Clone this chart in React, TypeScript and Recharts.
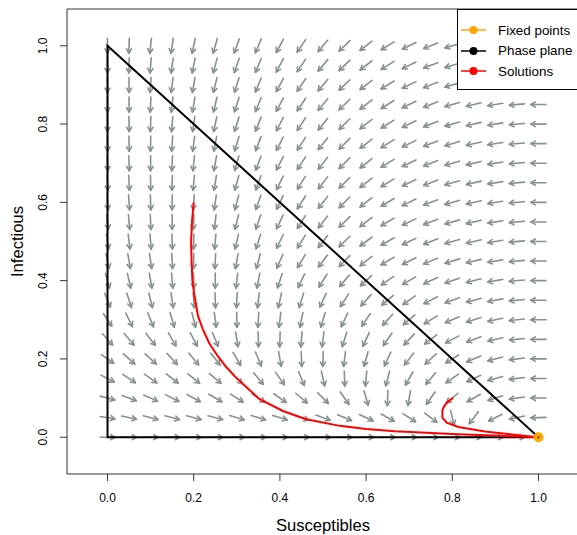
import React from 'react';
import { ScatterChart, Scatter, XAxis, YAxis, ReferenceArea, Legend } from 'recharts';

// grid of the flow field
const sValues = [0, 0.05, 0.1, 0.15, 0.2, 0.25, 0.3, 0.35, 0.4, 0.45, 0.5, 0.55, 0.6, 0.65, 0.7, 0.75, 0.8, 0.85, 0.9, 0.95, 1];
const iValues = [0, 0.05, 0.1, 0.15, 0.2, 0.25, 0.3, 0.35, 0.4, 0.45, 0.5, 0.55, 0.6, 0.65, 0.7, 0.75, 0.8, 0.85, 0.9, 0.95, 1];

// arrow directions on screen (degrees, 0 = right, -90 = down), one row per I value
const arrowAngles: (number | null)[][] = [
  [0, 0, 0, 0, 0, 0, 0, 0, 0, 0, 0, 0, 0, 0, 0, 0, 0, 0, 0, 0, null],
  [-9, -12, -14, -15, -15, -15, -16, -17, -17, -19, -20, -22, -25, -29, -33, -37, -76, -127, -153, -168, -178],
  [-15, -20, -24, -27, -29, -30, -32, -33, -35, -40, -45, -55, -74, -92, -100, -125, -140, -150, -162, -172, -180],
  [-27, -33, -35, -37, -39, -40, -44, -50, -55, -68, -77, -88, -95, -105, -120, -130, -145, -155, -165, -173, -180],
  [-35, -42, -42, -47, -50, -52, -60, -67, -80, -88, -92, -97, -105, -115, -128, -137, -148, -157, -165, -173, -180],
  [-48, -50, -52, -60, -62, -67, -80, -88, -92, -95, -98, -107, -115, -125, -133, -143, -152, -160, -167, -174, -180],
  [-56, -64, -68, -74, -76, -82, -89, -93, -97, -101, -107, -115, -124, -132, -140, -148, -157, -163, -168, -174, -180],
  [-68, -72, -76, -81, -85, -88, -93, -97, -102, -108, -115, -123, -132, -140, -145, -153, -160, -165, -170, -175, -180],
  [-74, -77, -80, -85, -88, -90, -97, -101, -108, -115, -122, -130, -138, -145, -150, -155, -162, -166, -170, -175, -180],
  [-78, -80, -82, -87, -90, -93, -100, -105, -114, -121, -127, -134, -142, -149, -153, -158, -163, -167, -171, -175, -180],
  [-81, -83, -85, -88, -91, -95, -103, -108, -116, -122, -128, -135, -143, -150, -154, -159, -164, -167, -171, -175, -180],
  [-84, -85, -87, -90, -92, -96, -104, -109, -116, -122, -128, -135, -142, -149, -154, -159, -164, -167, -171, -175, -180],
  [-86, -86, -88, -91, -94, -98, -105, -110, -116, -122, -128, -135, -142, -149, -154, -159, -164, -167, -171, -175, -180],
  [-87, -87, -89, -92, -95, -99, -106, -110, -116, -122, -128, -135, -142, -149, -154, -159, -164, -167, -171, -175, -180],
  [-88, -88, -90, -93, -96, -100, -106, -111, -117, -123, -128, -135, -142, -149, -154, -159, -164, -167, -171, -175, -180],
  [-89, -89, -91, -94, -97, -101, -107, -111, -117, -123, -129, -135, -142, -148, -154, -159, -164, -167, -171, -175, -180],
  [-90, -89, -92, -95, -98, -102, -107, -112, -117, -123, -129, -135, -142, -148, -154, -159, -164, -167, -171, -175, -180],
  [-90, -90, -93, -96, -99, -103, -108, -112, -118, -124, -129, -136, -142, -148, -154, -159, -164, -167, -171, -175, -180],
  [-90, -90, -94, -97, -100, -104, -108, -112, -118, -124, -130, -136, -142, -148, -154, -159, -164, -168, -171, -175, -180],
  [-90, -91, -95, -98, -101, -105, -109, -113, -118, -124, -130, -136, -142, -148, -154, -159, -164, -168, -171, -175, -180],
  [-90, -92, -96, -99, -102, -106, -110, -113, -118, -124, -130, -136, -142, -148, -154, -159, -164, -168, -171, -175, -180],
];

// phase plane boundary (S + I <= 1)
const planeS = [1, 0, 0, 1];
const planeI = [0, 0, 1, 0];

// trajectories
const sol1S = [0.2, 0.196, 0.194, 0.195, 0.197, 0.202, 0.21, 0.221, 0.236, 0.256, 0.275, 0.295, 0.33, 0.353, 0.407, 0.461, 0.539, 0.6, 0.667, 0.8, 0.876, 0.95, 1];
const sol1I = [0.6, 0.55, 0.5, 0.45, 0.4, 0.36, 0.31, 0.276, 0.24, 0.207, 0.18, 0.156, 0.12, 0.097, 0.067, 0.046, 0.029, 0.021, 0.015, 0.008, 0.005, 0.002, 0];
const sol2S = [0.802, 0.787, 0.779, 0.777, 0.777, 0.787, 0.814, 0.876, 0.953, 1];
const sol2I = [0.101, 0.088, 0.075, 0.067, 0.05, 0.037, 0.026, 0.0145, 0.005, 0];

const fixedS = [1];
const fixedI = [0];

const xTicks = [0, 0.2, 0.4, 0.6, 0.8, 1];
const yTicks = [0, 0.2, 0.4, 0.6, 0.8, 1];

const legendItems = [
  { label: 'Fixed points', color: '#FFA500' },
  { label: 'Phase plane', color: '#000000' },
  { label: 'Solutions', color: '#FF0000' },
];

const FONT = '"Liberation Sans", Arial, Helvetica, sans-serif';
const ARROW_COLOR = '#869190';

const zip = (xs: number[], ys: number[]) => xs.map((x, i) => ({ x, y: ys[i] }));

const fieldData: { x: number; y: number; angle: number }[] = [];
iValues.forEach((iv, r) => {
  sValues.forEach((sv, c) => {
    const a = arrowAngles[r][c];
    if (a !== null) fieldData.push({ x: sv, y: iv, angle: a });
  });
});

const Arrow = (props: any) => {
  const { cx, cy, payload } = props;
  if (cx == null || cy == null) return <g />;
  const rad = (payload.angle * Math.PI) / 180;
  const ux = Math.cos(rad);
  const uy = -Math.sin(rad);
  const half = 7.5;
  const x1 = cx - ux * half;
  const y1 = cy - uy * half;
  const x2 = cx + ux * half;
  const y2 = cy + uy * half;
  const head = 5;
  const back = rad + Math.PI;
  const h1 = back + Math.PI / 6;
  const h2 = back - Math.PI / 6;
  return (
    <g stroke={ARROW_COLOR} strokeWidth={1.6} strokeLinecap="round" fill="none">
      <line x1={x1} y1={y1} x2={x2} y2={y2} />
      <line x1={x2} y1={y2} x2={x2 + Math.cos(h1) * head} y2={y2 - Math.sin(h1) * head} />
      <line x1={x2} y1={y2} x2={x2 + Math.cos(h2) * head} y2={y2 - Math.sin(h2) * head} />
    </g>
  );
};

const NoDot = () => <g />;

const FixedDot = (props: any) => {
  const { cx, cy } = props;
  return (
    <g>
      <circle cx={cx} cy={cy} r={5} fill="#FFA500" />
      <circle cx={cx} cy={cy} r={1} fill="#333" />
    </g>
  );
};

const XTick = (props: any) => {
  const { x, payload } = props;
  return (
    <text x={x} y={502} textAnchor="middle" fontSize={12} fontFamily={FONT} fill="#000">
      {payload.value.toFixed(1)}
    </text>
  );
};

const YTick = (props: any) => {
  const { y, payload } = props;
  return (
    <text x={47.5} y={y} transform={`rotate(-90, 47.5, ${y})`} textAnchor="middle" fontSize={12} fontFamily={FONT} fill="#000">
      {payload.value.toFixed(1)}
    </text>
  );
};

const XTitle = () => (
  <text x={323} y={531} textAnchor="middle" fontSize={16.6} fontFamily={FONT} fill="#000">
    Susceptibles
  </text>
);

const YTitle = () => (
  <text x={23} y={241.5} transform="rotate(-90, 23, 241.5)" textAnchor="middle" fontSize={16.6} fontFamily={FONT} fill="#000">
    Infectious
  </text>
);

const PhaseLegend = () => (
  <div
    style={{
      width: 121,
      height: 81,
      boxSizing: 'border-box',
      border: '1px solid #000',
      background: '#fff',
      position: 'relative',
      fontFamily: FONT,
      fontSize: 13.4,
    }}
  >
    {legendItems.map((item, i) => (
      <div key={item.label} style={{ position: 'absolute', left: 0, top: 10 + i * 20.7, height: 20, display: 'flex', alignItems: 'center' }}>
        <svg width={36} height={20} style={{ display: 'block' }}>
          <line x1={3} y1={10} x2={28} y2={10} stroke={item.color} strokeWidth={1.5} />
          <circle cx={15.5} cy={10} r={4} fill={item.color} />
        </svg>
        <span style={{ marginLeft: 4, whiteSpace: 'nowrap', color: '#000' }}>{item.label}</span>
      </div>
    ))}
  </div>
);

export default function App() {
  return (
    <div style={{ position: 'absolute', left: 0, top: 0, width: 577, height: 535, overflow: 'hidden', background: '#fff' }}>
      <ScatterChart width={600} height={535} margin={{ top: 9, right: 21, bottom: 0, left: 0 }}>
        <XAxis
          type="number"
          dataKey="x"
          domain={[-0.094, 1.094]}
          allowDataOverflow
          ticks={xTicks}
          tick={<XTick />}
          tickSize={7}
          tickLine={{ stroke: '#333' }}
          axisLine={false}
          height={61}
          label={<XTitle />}
        />
        <YAxis
          type="number"
          dataKey="y"
          domain={[-0.094, 1.094]}
          allowDataOverflow
          ticks={yTicks}
          tick={<YTick />}
          tickSize={7}
          tickLine={{ stroke: '#333' }}
          axisLine={false}
          width={67}
          label={<YTitle />}
        />
        <ReferenceArea x1={-0.094} x2={1.094} y1={-0.094} y2={1.094} fill="none" stroke="#333" strokeWidth={1} ifOverflow="visible" />
        <Scatter data={fieldData} shape={<Arrow />} isAnimationActive={false} />
        <Scatter data={zip(planeS, planeI)} line={{ stroke: '#000', strokeWidth: 2 }} lineType="joint" shape={<NoDot />} isAnimationActive={false} />
        <Scatter data={zip(sol1S, sol1I)} line={{ stroke: '#FF0000', strokeWidth: 2 }} lineType="joint" shape={<NoDot />} isAnimationActive={false} />
        <Scatter data={zip(sol2S, sol2I)} line={{ stroke: '#FF0000', strokeWidth: 2 }} lineType="joint" shape={<NoDot />} isAnimationActive={false} />
        <Scatter data={zip(fixedS, fixedI)} shape={<FixedDot />} isAnimationActive={false} />
        <Legend
          layout="horizontal"
          verticalAlign="middle"
          align="center"
          content={() => <PhaseLegend />}
          wrapperStyle={{ position: 'absolute', left: 457, top: 9, width: 121, height: 81 }}
        />
      </ScatterChart>
    </div>
  );
}
